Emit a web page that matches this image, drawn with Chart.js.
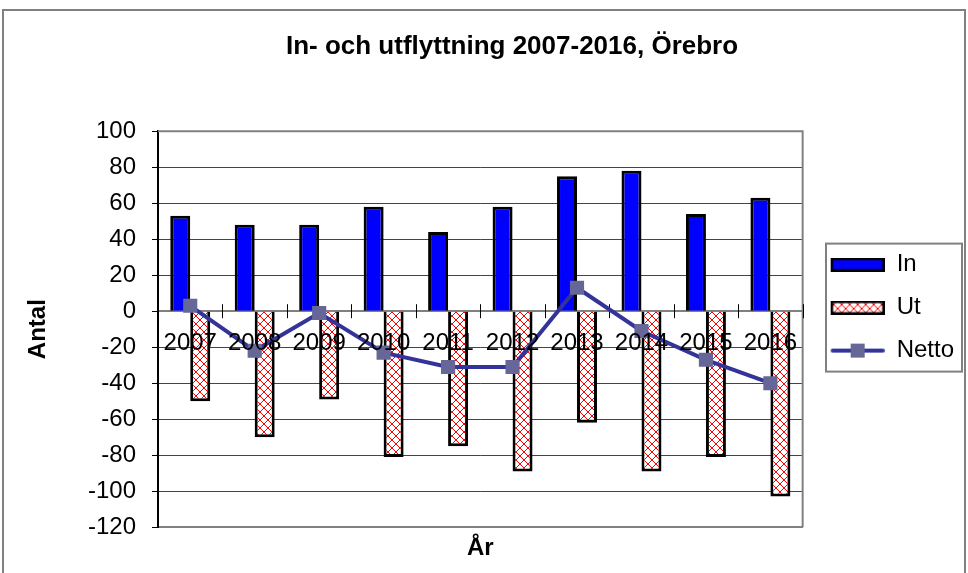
<!DOCTYPE html>
<html>
<head>
<meta charset="utf-8">
<script src="https://cdn.jsdelivr.net/npm/chart.js@4/dist/chart.umd.min.js"></script>
<style>
  html, body { margin: 0; padding: 0; background: #fff; }
  #wrap { width: 968px; height: 573px; position: relative; }
</style>
</head>
<body>
<div id="wrap"><canvas id="myChart"></canvas></div>
<script>
// data
var years = ['2007', '2008', '2009', '2010', '2011', '2012', '2013', '2014', '2015', '2016'];
var inflytt = [53, 48, 48, 58, 44, 58, 75, 78, 54, 63];
var utflytt = [-50, -70, -49, -81, -75, -89, -62, -89, -81, -103];
var netto = [3, -22, -1, -23, -31, -31, 13, -11, -27, -40];
var yTicks = [-120, -100, -80, -60, -40, -20, 0, 20, 40, 60, 80, 100];

var FONT = '"Liberation Sans", Arial, sans-serif';

// red lattice fill like the excel pattern
function makeHatch() {
    var c = document.createElement('canvas');
    c.width = 8; c.height = 8;
    var g = c.getContext('2d');
    g.fillStyle = '#fff';
    g.fillRect(0, 0, 8, 8);
    g.fillStyle = '#ff0000';
    for (var i = 0; i < 8; i++) {
        g.fillRect(i, i, 1, 1);
        g.fillRect(7 - i, i, 1, 1);
    }
    return g.createPattern(c, 'repeat');
}
var hatch = makeHatch();

// legend symbols (63 wide, drawn on the right part so the text sits close)
function boxIcon(fill) {
    var c = document.createElement('canvas');
    c.width = 63; c.height = 14;
    var g = c.getContext('2d');
    g.fillStyle = fill;
    g.fillRect(9, 0, 54, 14);
    g.strokeStyle = '#000';
    g.lineWidth = 2.5;
    g.strokeRect(10.25, 1.25, 51.5, 11.5);
    return c;
}
function lineIcon() {
    var c = document.createElement('canvas');
    c.width = 63; c.height = 16;
    var g = c.getContext('2d');
    g.strokeStyle = '#333399';
    g.lineWidth = 4;
    g.lineCap = 'round';
    g.beginPath(); g.moveTo(11, 8); g.lineTo(61, 8); g.stroke();
    g.fillStyle = '#666699';
    g.fillRect(29, 1, 14, 14);
    return c;
}
var icons = [boxIcon('#0000ff'), boxIcon(hatch), lineIcon()];

var frame = {
    id: 'frame',
    afterLayout: function(chart) {
        // excel centres the title a bit right of the canvas middle
        var tb = chart.titleBlock;
        if (tb) { tb.left += 25; tb.right += 25; }
    },
    beforeDraw: function(chart) {
        var ctx = chart.ctx;
        ctx.save();
        ctx.fillStyle = '#fff';
        ctx.fillRect(0, 0, chart.width, chart.height);
        ctx.strokeStyle = '#808080';
        ctx.lineWidth = 2;
        ctx.strokeRect(3, 10, 962, 580);
        ctx.restore();
    },
    beforeDatasetsDraw: function(chart) {
        var ctx = chart.ctx, a = chart.chartArea;
        ctx.save();
        ctx.strokeStyle = '#808080';
        ctx.lineWidth = 2;
        ctx.beginPath();
        ctx.moveTo(a.left, a.top); ctx.lineTo(a.right, a.top); ctx.lineTo(a.right, a.bottom);
        ctx.stroke();
        // cross tick marks on the zero line
        var x = chart.scales.x, y0 = chart.scales.y.getPixelForValue(0);
        var half = (x.getPixelForValue(1) - x.getPixelForValue(0)) / 2;
        ctx.strokeStyle = '#000';
        ctx.lineWidth = 1;
        ctx.beginPath();
        for (var i = 0; i <= years.length; i++) {
            var px = Math.round(x.getPixelForValue(i) - half) + 0.5;
            ctx.moveTo(px, y0 - 7); ctx.lineTo(px, y0 + 7);
        }
        ctx.stroke();
        ctx.restore();
    },
    afterDraw: function(chart) {
        var lg = chart.legend;
        if (!lg || !lg.legendHitBoxes.length) return;
        var hb = lg.legendHitBoxes;
        var c0 = hb[0].top + hb[0].height / 2;
        var c1 = hb[hb.length - 1].top + hb[hb.length - 1].height / 2;
        var ctx = chart.ctx;
        ctx.save();
        ctx.strokeStyle = '#808080';
        ctx.lineWidth = 2;
        ctx.strokeRect(826, c0 - 21, 136, c1 - c0 + 42);
        ctx.restore();
    }
};

var ctx = document.getElementById('myChart').getContext('2d');
var chart = new Chart(ctx, {
    type: 'bar',
    data: {
        labels: years,
        datasets: [{
            label: 'In',
            data: inflytt,
            backgroundColor: '#0000ff',
            borderColor: '#000',
            borderWidth: 3,
            order: 1
        }, {
            label: 'Ut',
            data: utflytt,
            backgroundColor: hatch,
            borderColor: '#000',
            borderWidth: 3,
            order: 1
        }, {
            type: 'line',
            label: 'Netto',
            data: netto,
            borderColor: '#333399',
            borderWidth: 4,
            pointStyle: 'rect',
            pointRadius: 10,
            pointBackgroundColor: '#666699',
            pointBorderWidth: 0,
            tension: 0,
            order: 0
        }]
    },
    options: {
        responsive: true,
        maintainAspectRatio: false,
        animation: false,
        categoryPercentage: 0.62,
        barPercentage: 1,
        layout: { padding: { left: 10, top: 10, right: 4, bottom: 10 } },
        plugins: {
            title: {
                display: true,
                text: 'In- och utflyttning 2007-2016, Örebro',
                color: '#000',
                font: { family: FONT, size: 26, weight: 'bold' },
                padding: { top: 21, bottom: 69 }
            },
            legend: {
                position: 'right',
                title: { display: true, text: ' ', font: { size: 1 }, padding: { top: 41, bottom: 0 } },
                labels: {
                    usePointStyle: true,
                    pointStyleWidth: 63,
                    padding: 19,
                    color: '#000',
                    font: { family: FONT, size: 24 },
                    generateLabels: function(chart) {
                        return chart.data.datasets.map(function(ds, i) {
                            return { text: ds.label, pointStyle: icons[i], datasetIndex: i, fontColor: '#000', lineWidth: 0, hidden: false };
                        });
                    }
                }
            },
            tooltip: { enabled: false }
        },
        scales: {
            x: {
                position: 'bottom',
                grid: { display: false, drawTicks: false },
                border: { display: true, color: '#808080', width: 2 },
                ticks: { display: false },
                title: {
                    display: true, text: 'År', color: '#000',
                    font: { family: FONT, size: 24, weight: 'bold' },
                    padding: { top: 7, bottom: 0 }
                }
            },
            x2: {
                type: 'category',
                labels: years,
                offset: true,
                position: { y: 0 },
                grid: { display: false, drawTicks: false },
                border: { display: true, color: '#808080', width: 2 },
                ticks: {
                    z: 1,
                    color: '#000', padding: 18, autoSkip: false, maxRotation: 0,
                    font: { family: FONT, size: 24 }
                }
            },
            y: {
                min: -120,
                max: 100,
                afterBuildTicks: function(scale) {
                    scale.ticks = yTicks.map(function(v) { return { value: v }; });
                },
                afterFit: function(scale) { scale.width = 148; },
                grid: {
                    color: '#444', lineWidth: 1, borderDash: [1, 1],
                    drawTicks: true, tickLength: 6, tickColor: '#000', tickBorderDash: [0, 0]
                },
                border: { display: true, color: '#000', width: 2 },
                ticks: { color: '#000', padding: 16, font: { family: FONT, size: 24 } },
                title: {
                    display: true, text: 'Antal', color: '#000',
                    font: { family: FONT, size: 24, weight: 'bold' },
                    padding: { top: 14, bottom: 0 }
                }
            }
        }
    },
    plugins: [frame]
});
</script>
</body>
</html>
